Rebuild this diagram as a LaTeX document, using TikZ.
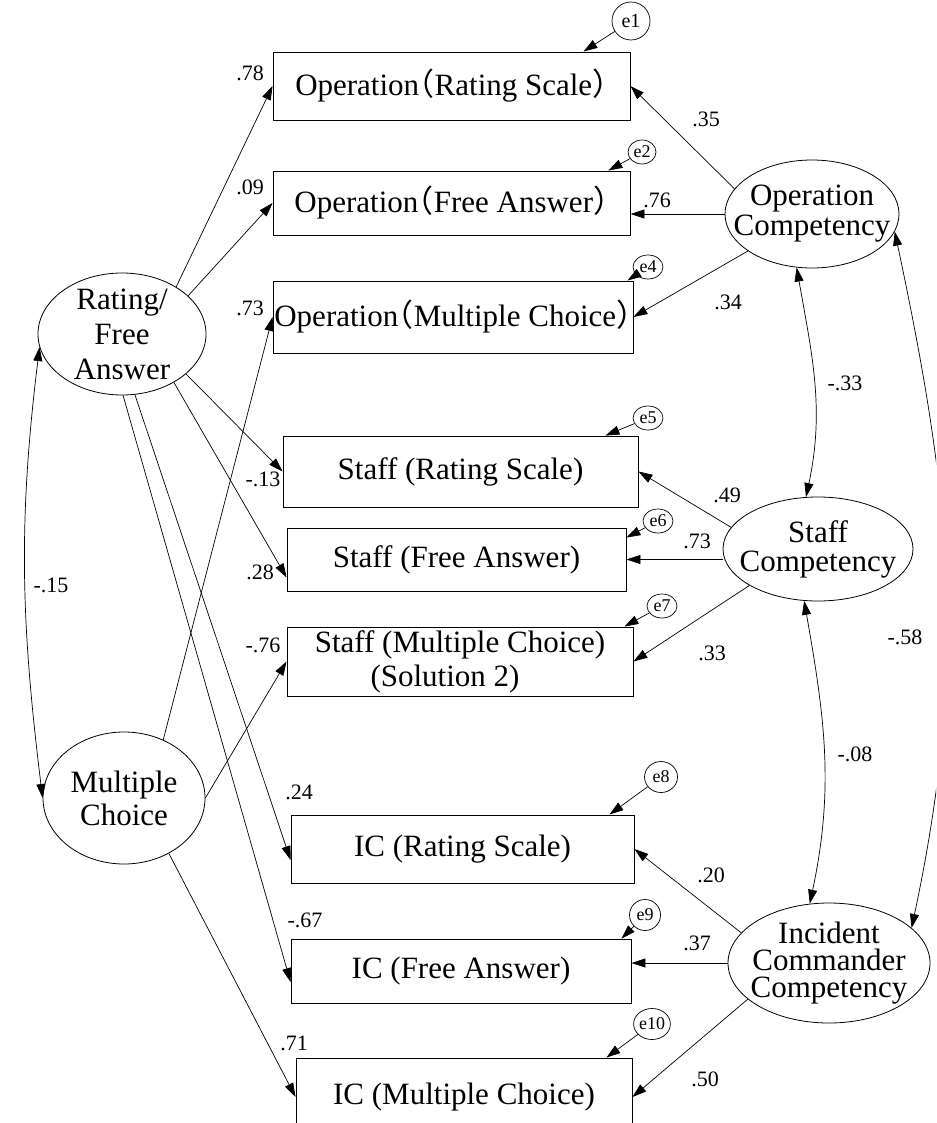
\documentclass[tikz,border=0pt]{standalone}
\usepackage{fontspec}
\setmainfont{Liberation Serif}
\newfontfamily\cjk[RawFeature=+halt]{Noto Sans CJK JP}
\usepackage{tikz}
\usetikzlibrary{shapes.geometric,arrows.meta}

\newcommand{\mainsize}{\fontsize{31}{34}\selectfont}
\newcommand{\coefsize}{\fontsize{22}{24}\selectfont}
\newcommand{\errsize}{\fontsize{18}{20}\selectfont}
\newcommand{\lpar}{{\cjk （}}
\newcommand{\rpar}{{\cjk ）}}

\begin{document}
\begin{tikzpicture}[
    x=1pt, y=-1pt,
    >={Triangle[length=14pt,width=9pt]},
    obs/.style={rectangle, draw, line width=0.9pt, inner sep=0pt, align=center, font=\mainsize},
    lat/.style={ellipse, draw, line width=0.8pt, inner sep=0pt},
    lattext/.style={font={\fontsize{31}{#1}\selectfont}, align=center, inner sep=0pt},
    err/.style={ellipse, draw, line width=0.7pt, inner sep=0pt, minimum width=30, minimum height=24, font=\errsize},
    coef/.style={inner sep=0pt, font=\coefsize},
    arrow/.style={->, line width=0.7pt},
    cov/.style={<->, line width=0.7pt}
]
    \useasboundingbox (0,0) rectangle (936,1123);
    \clip (0,0) rectangle (936,1123);

    % indicators
    \node[obs, minimum width=357, minimum height=68] (opRS) at (451.5,86) {Operation\lpar Rating Scale\rpar};
    \node[obs, minimum width=357, minimum height=64] (opFA) at (451.5,203) {Operation\lpar Free Answer\rpar};
    \node[obs, minimum width=360, minimum height=72] (opMC) at (453,317) {Operation\lpar Multiple Choice\rpar};
    \node[obs, minimum width=355, minimum height=71] (stRS) at (460.5,471.5) {Staff (Rating Scale)};
    \node[obs, minimum width=339, minimum height=63] (stFA) at (456.5,559.5) {Staff (Free Answer)};
    \node[obs, minimum width=346, minimum height=69] (stMC) at (460,661.5) {Staff (Multiple Choice)\\\hspace*{-30pt}(Solution 2)};
    \node[obs, minimum width=343, minimum height=68] (icRS) at (462.5,849) {IC (Rating Scale)};
    \node[obs, minimum width=340, minimum height=64] (icFA) at (461,971) {IC (Free Answer)};
    \node[obs, minimum width=336, minimum height=78] (icMC) at (464,1097) {IC (Multiple Choice)};

    % latent variables
    \node[lat, minimum width=168, minimum height=122, label={[lattext=35]center:Rating/\\Free\\Answer}] (rfa) at (122,334) {};
    \node[lat, minimum width=162, minimum height=132, label={[lattext=33]center:Multiple\\Choice}] (mc) at (124,798) {};
    \node[lat, minimum width=174, minimum height=108, label={[lattext=30]center:Operation\\Competency}] (oc) at (812,214) {};
    \node[lat, minimum width=190, minimum height=104, label={[lattext=29]center:Staff\\Competency}] (sc) at (818,549) {};
    \node[lat, minimum width=202, minimum height=120, label={[lattext=27]center:Incident\\Commander\\Competency}] (icc) at (829,963) {};

    % errors
    \node[err, minimum width=38, minimum height=38, font=\fontsize{20}{22}\selectfont] (e1) at (631,21) {e1};
    \node[err, minimum width=28] (e2) at (642,152) {e2};
    \node[err] (e4) at (648,267) {e4};
    \node[err] (e5) at (648,418) {e5};
    \node[err] (e6) at (658,521) {e6};
    \node[err] (e7) at (662,606) {e7};
    \node[err, minimum width=33, minimum height=31] (e8) at (661,777) {e8};
    \node[err, minimum width=31, minimum height=31] (e9) at (645,915) {e9};
    \node[err, minimum width=33, minimum height=31] (e10) at (652,1024) {e10};

    \draw[arrow] (e1) -- ([xshift=-47pt]opRS.north east);
    \draw[arrow] (e2) -- ([xshift=-22pt]opFA.north east);
    \draw[arrow] (e4) -- ([xshift=-6pt]opMC.north east);
    \draw[arrow] (e5) -- ([xshift=-33pt]stRS.north east);
    \draw[arrow] (e6) -- ([yshift=-10pt]stFA.north east);
    \draw[arrow] (e7) -- ([xshift=-9pt]stMC.north east);
    \draw[arrow] (e8) -- ([xshift=-25pt]icRS.north east);
    \draw[arrow] (e9) -- ([xshift=-10pt]icFA.north east);
    \draw[arrow] (e10) -- ([xshift=-26pt]icMC.north east);

    % method factors
    \draw[arrow] (rfa.41) -- (opRS.west);
    \draw[arrow] (rfa.30) -- (opFA.west);
    \draw[arrow] (rfa.-32) -- (stRS.west);
    \draw[arrow] (rfa.-43) -- ([yshift=-18pt]stFA.west);
    \draw[arrow] (rfa.-78) -- ([yshift=-11pt]icRS.west);
    \draw[arrow] (rfa.-89) -- ([yshift=-11pt]icFA.west);
    \draw[arrow] (mc.56) -- (opMC.west);
    \draw[arrow] (mc.east) -- (stMC.west);
    \draw[arrow] (mc.-51) -- (icMC.west);

    % trait factors
    \draw[arrow] (oc.162) -- (opRS.east);
    \draw[arrow] (oc.west) -- (opFA.east |- oc.west);
    \draw[arrow] (oc.210) -- (opMC.east);
    \draw[arrow] (sc.166) -- (stRS.east);
    \draw[arrow] (sc.west |- stFA.east) -- (stFA.east);
    \draw[arrow] (sc.208) -- (stMC.east);
    \draw[arrow] (icc.161) -- (icRS.east);
    \draw[arrow] (icc.west) -- (icFA.east |- icc.west);
    \draw[arrow] (icc.204) -- (icMC.east);

    % correlations
    \draw[cov] (rfa.189) to[out=263, in=97] (mc.west);
    \draw[cov] (oc.254) to[out=280, in=78] (sc.103);
    \draw[cov] (sc.255) to[out=280, in=78] (icc.108);
    \draw[cov] (oc.348) to[out=-78, in=78] (icc.23);

    % coefficients
    \node[coef] (b1) at (250,73) {.78};
    \node[coef] (b2) at (250,187) {.09};
    \node[coef] (b3) at (250,308) {.73};
    \node[coef] (b4) at (263,479) {-.13};
    \node[coef] (b5) at (260,572) {.28};
    \node[coef] (b6) at (263,645) {-.76};
    \node[coef] (b7) at (299,792) {.24};
    \node[coef] (b8) at (305,920) {-.67};
    \node[coef] (b9) at (294,1043) {.71};
    \node[coef] (b10) at (706,119) {.35};
    \node[coef] (b11) at (657,200) {.76};
    \node[coef] (b12) at (728,302) {.34};
    \node[coef] (b13) at (727,495) {.49};
    \node[coef] (b14) at (697,541) {.73};
    \node[coef] (b15) at (712,653) {.33};
    \node[coef] (b16) at (711,875) {.20};
    \node[coef] (b17) at (697,943) {.37};
    \node[coef] (b18) at (705,1079) {.50};
    \node[coef] (r1) at (51,585) {-.15};
    \node[coef] (r2) at (845,383) {-.33};
    \node[coef] (r3) at (855,754) {-.08};
    \node[coef] (r4) at (905,637) {-.58};
\end{tikzpicture}
\end{document}
